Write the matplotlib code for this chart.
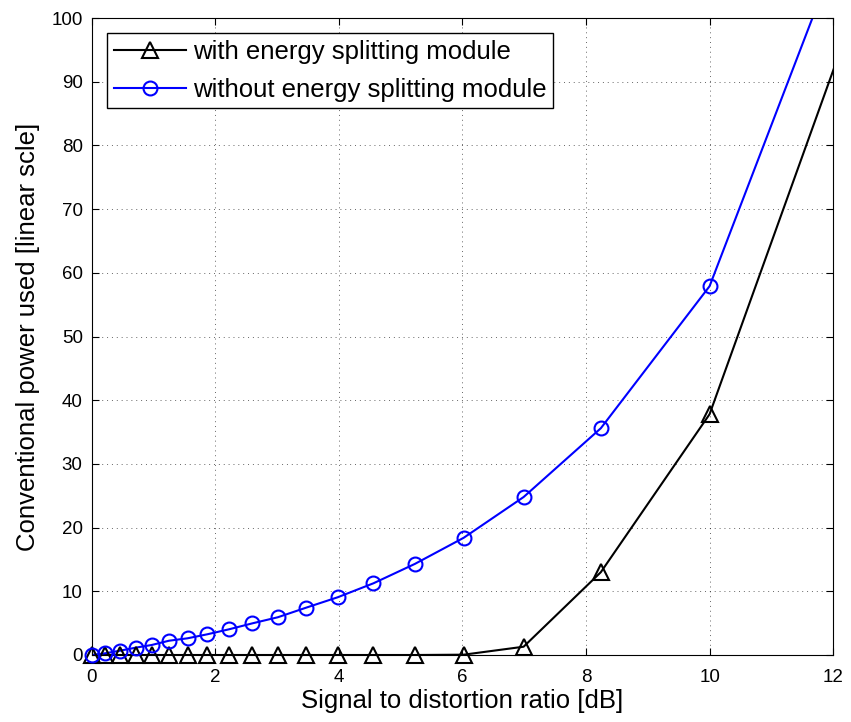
import matplotlib
matplotlib.use('Agg')
import matplotlib.pyplot as plt
from matplotlib.lines import Line2D

plt.rcParams['font.family'] = ['Liberation Sans', 'DejaVu Sans']

# SDR points [dB]
sdr = [0, 0.22, 0.46, 0.71, 0.97, 1.25, 1.55, 1.87, 2.22, 2.6, 3.01,
       3.47, 3.98, 4.56, 5.23, 6.02, 6.99, 8.24, 10, 13.01]
# power used with energy splitting module
with_split = [0, 0, 0, 0, 0, 0, 0, 0, 0, 0, 0,
              0, 0, 0, 0, 0.05, 1.3, 13.0, 37.8, 119]
# power used without energy splitting module
without_split = [0, 0.27, 0.68, 1.15, 1.57, 2.24, 2.62, 3.25, 4.03, 4.97, 5.92,
                 7.43, 9.06, 11.26, 14.3, 18.4, 24.8, 35.6, 57.9, 134]

fig = plt.figure(figsize=(8.51, 7.22), dpi=100)
ax = fig.add_axes([0.1078, 0.0928, 0.8712, 0.8822])

# markers inside the x-range are not clipped (like matlab)
inside = [i for i, x in enumerate(sdr) if x <= 12]
ax.plot(sdr, with_split, color='k', lw=1.5)
ax.plot([sdr[i] for i in inside], [with_split[i] for i in inside], ls='none',
        marker='^', ms=11, mfc='none', mec='k', mew=1.5, clip_on=False, zorder=3)
ax.plot(sdr, without_split, color='b', lw=1.5)
ax.plot([sdr[i] for i in inside], [without_split[i] for i in inside], ls='none',
        marker='o', ms=10, mfc='none', mec='b', mew=1.5, clip_on=False, zorder=3)

ax.set_xlim(0, 12)
ax.set_ylim(0, 100)
ax.set_xticks(range(0, 13, 2))
ax.set_yticks(range(0, 101, 10))
ax.tick_params(direction='in', top=True, right=True, labelsize=13.5, length=5)
ax.tick_params(axis='x', pad=10)
ax.tick_params(axis='y', pad=6.5)
ax.grid(True, linestyle=(0, (1, 4)), color='k', lw=0.7, alpha=0.6)

ax.set_xlabel('Signal to distortion ratio [dB]', fontsize=18.5, labelpad=2)
ax.set_ylabel('Conventional power used [linear scle]', fontsize=18.5, labelpad=8)

handles = [
    Line2D([], [], color='k', lw=1.5, marker='^', ms=11, mfc='none', mew=1.5),
    Line2D([], [], color='b', lw=1.5, marker='o', ms=10, mfc='none', mew=1.5),
]
labels = ['with energy splitting module', 'without energy splitting module']
leg = ax.legend(handles, labels, loc='upper left', fontsize=18.5, fancybox=False,
                framealpha=1, edgecolor='k', handlelength=2.8, borderaxespad=0.6,
                handletextpad=0.3, labelspacing=0.55, borderpad=0.25)
leg.get_frame().set_linewidth(1.0)

fig.savefig('out.png', dpi=100)
